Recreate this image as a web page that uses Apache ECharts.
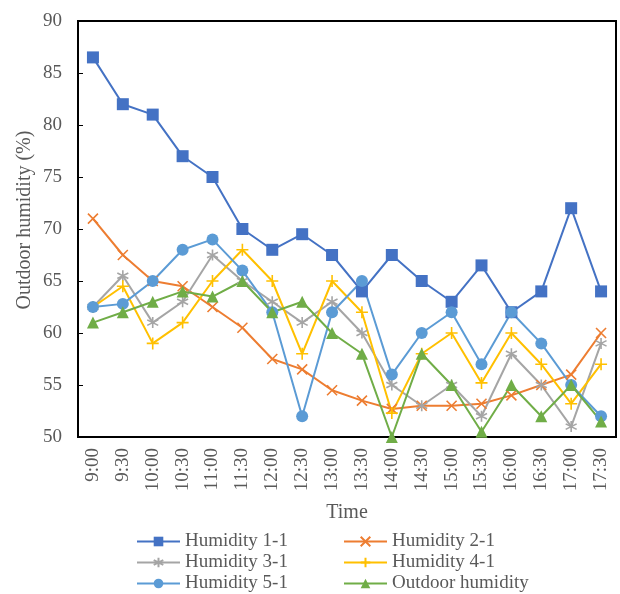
<!DOCTYPE html>
<html>
<head>
<meta charset="utf-8">
<script src="https://cdn.jsdelivr.net/npm/echarts@6/dist/echarts.min.js"></script>
<style>
  html, body { margin: 0; padding: 0; background: #fff; }
  #chart { width: 620px; height: 594px; }
</style>
</head>
<body>
<div id="chart"></div>
<script>
// Half-hourly humidity readings, 9:00 to 17:30
const times = ['9:00', '9:30', '10:00', '10:30', '11:00', '11:30', '12:00', '12:30', '13:00',
  '13:30', '14:00', '14:30', '15:00', '15:30', '16:00', '16:30', '17:00', '17:30'];

const humidity11 = [86.5, 82, 81, 77, 75, 70, 68, 69.5, 67.5, 64, 67.5, 65, 63, 66.5, 62, 64, 72, 64];
const humidity21 = [71, 67.5, 65, 64.5, 62.5, 60.5, 57.5, 56.5, 54.5, 53.5, 52.7, 53, 53, 53.2, 54, 55, 56, 60];
const humidity31 = [62.5, 65.5, 61, 63, 67.5, 65, 63, 61, 63, 60, 55, 53, 55, 52, 58, 55, 51, 59];
const humidity41 = [62.5, 64.5, 59, 61, 65, 68, 65, 58, 65, 62, 52.3, 58, 60, 55.2, 60, 57, 53.2, 57];
const humidity51 = [62.5, 62.8, 65, 68, 69, 66, 62, 52, 62, 65, 56, 60, 62, 57, 62, 59, 55, 52];
const outdoor = [61, 62, 63, 64, 63.5, 65, 62, 63, 60, 58, 50, 58, 55, 50.5, 55, 52, 55, 51.5];

const yTicks = { min: 50, max: 90, interval: 5 };

const FONT = '"Liberation Serif", "Times New Roman", serif';
const TEXT = '#595959';

const SYM_X = 'path://M0,0L10,10M10,0L0,10';
const SYM_STAR = 'path://M5,0L5,10M0.7,2.5L9.3,7.5M9.3,2.5L0.7,7.5';
const SYM_PLUS = 'path://M5,0L5,10M0,5L10,5';

function lineSeries(name, data, color, symbol, size, stroked) {
  return {
    name: name,
    type: 'line',
    data: data,
    symbol: symbol,
    symbolSize: size,
    showAllSymbol: true,
    lineStyle: { color: color, width: 2 },
    itemStyle: stroked
      ? { color: color, borderColor: color, borderWidth: 1.6 }
      : { color: color, borderWidth: 0 },
    emphasis: { disabled: true }
  };
}

const chart = echarts.init(document.getElementById('chart'), null, { renderer: 'canvas' });

const legendCommon = {
  orient: 'vertical',
  top: 532,
  height: 70,
  padding: 0,
  itemWidth: 43,
  itemHeight: 12,
  itemGap: 2,
  textStyle: { fontFamily: FONT, fontSize: 19, color: TEXT, lineHeight: 18 }
};

chart.setOption({
  animation: false,
  backgroundColor: '#ffffff',
  grid: {
    left: 78, right: 4, top: 21, bottom: 157,
    show: true, borderColor: '#000', borderWidth: 2, backgroundColor: 'transparent'
  },
  legend: [
    Object.assign({ left: 136, data: ['Humidity 1-1', 'Humidity 3-1', 'Humidity 5-1'] }, legendCommon),
    Object.assign({ left: 343, data: ['Humidity 2-1', 'Humidity 4-1', 'Outdoor humidity'] }, legendCommon)
  ],
  xAxis: {
    type: 'category',
    data: times,
    boundaryGap: true,
    name: 'Time',
    nameLocation: 'middle',
    nameGap: 66,
    nameMoveOverlap: false,
    nameTextStyle: { fontFamily: FONT, fontSize: 20, color: TEXT },
    axisLine: { lineStyle: { color: '#000', width: 2 } },
    axisTick: { inside: true, length: 5, lineStyle: { color: '#000', width: 1 } },
    axisLabel: { rotate: 90, margin: 11, fontFamily: FONT, fontSize: 19, color: TEXT }
  },
  yAxis: {
    type: 'value',
    min: yTicks.min, max: yTicks.max, interval: yTicks.interval,
    name: 'Outdoor humidity (%)',
    nameLocation: 'middle',
    nameGap: 43,
    nameMoveOverlap: false,
    nameTextStyle: { fontFamily: FONT, fontSize: 20, color: TEXT, padding: [0, 0, 0, 18] },
    axisLine: { show: true, lineStyle: { color: '#000', width: 2 } },
    axisTick: { show: true, inside: true, length: 5, lineStyle: { color: '#000', width: 1 } },
    axisLabel: { margin: 16, fontFamily: FONT, fontSize: 19, color: TEXT },
    splitLine: { show: false }
  },
  series: [
    lineSeries('Humidity 1-1', humidity11, '#4472C4', 'rect', 12, false),
    lineSeries('Humidity 2-1', humidity21, '#ED7D31', SYM_X, 10, true),
    lineSeries('Humidity 3-1', humidity31, '#A5A5A5', SYM_STAR, 11, true),
    lineSeries('Humidity 4-1', humidity41, '#FFC000', SYM_PLUS, 12, true),
    lineSeries('Humidity 5-1', humidity51, '#5B9BD5', 'circle', 12, false),
    lineSeries('Outdoor humidity', outdoor, '#70AD47', 'triangle', 12, false)
  ]
});
</script>
</body>
</html>
